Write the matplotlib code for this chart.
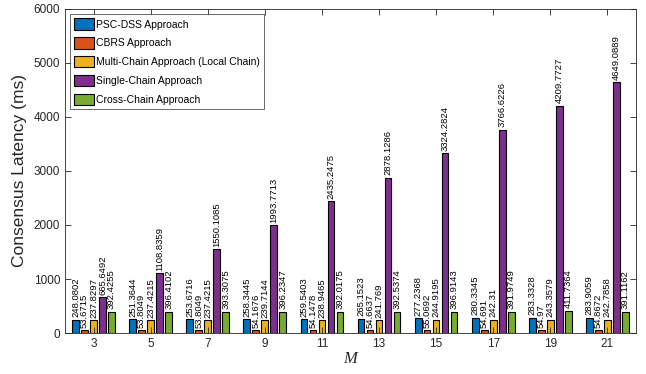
import numpy as np
import matplotlib
matplotlib.use("Agg")
import matplotlib.pyplot as plt

plt.rcParams['font.family'] = ['Liberation Sans', 'DejaVu Sans']

m_values = [3, 5, 7, 9, 11, 13, 15, 17, 19, 21]
series_names = [
    "PSC-DSS Approach",
    "CBRS Approach",
    "Multi-Chain Approach (Local Chain)",
    "Single-Chain Approach",
    "Cross-Chain Approach",
]
psc_dss = [248.0802, 251.3644, 253.6716, 258.3445, 259.5403, 265.1523, 277.2368, 280.3345, 283.3328, 283.9059]
cbrs = [53.6715, 53.8049, 53.8049, 54.1676, 54.1478, 54.6637, 55.0692, 54.691, 54.97, 54.8672]
multi_chain = [237.8297, 237.4215, 237.4215, 239.7144, 238.9465, 241.769, 244.9195, 242.31, 243.3579, 242.7858]
single_chain = [665.6492, 1108.8359, 1550.1085, 1993.7713, 2435.2475, 2878.1286, 3324.2824, 3766.6226, 4209.7727, 4649.0889]
cross_chain = [392.4255, 396.4102, 393.3075, 396.2347, 392.0175, 392.5374, 396.9143, 391.9749, 411.7364, 391.1162]

all_series = [psc_dss, cbrs, multi_chain, single_chain, cross_chain]
colors = ["#0072BD", "#D95319", "#EDB120", "#7E2F8E", "#77AC30"]

fig = plt.figure(figsize=(6.46, 3.74), dpi=100)
ax = fig.add_axes([0.1006, 0.1096, 0.8839, 0.8664])

x = np.array(m_values, dtype=float)
step = 0.315
width = 0.235
for i, (vals, col, name) in enumerate(zip(all_series, colors, series_names)):
    pos = x + (i - 2) * step
    ax.bar(pos, vals, width=width, color=col, edgecolor="black", linewidth=0.8, label=name)
    for p, v in zip(pos, vals):
        ax.text(p, v + 45, f"{v}", rotation=90, ha="center", va="bottom",
                fontsize=6.8, color="black")

ax.set_xlim(2, 22)
ax.set_ylim(0, 6000)
ax.set_xticks(m_values)
ax.set_yticks(range(0, 6001, 1000))
ax.tick_params(direction="in", top=True, right=True, labelsize=8.5,
               colors="#262626", length=4, width=0.6)
for s in ax.spines.values():
    s.set_color("#262626")
    s.set_linewidth(0.6)

ax.set_ylabel("Consensus Latency (ms)", fontsize=12.5, color="#262626", labelpad=5)
ax.set_xlabel("M", fontsize=12, fontstyle="italic", family="Liberation Serif",
              color="#262626", labelpad=1)

leg = ax.legend(loc="upper left", fontsize=7.5, frameon=True, fancybox=False,
                edgecolor="#262626", borderpad=0.4, handlelength=1.9,
                handleheight=1.3, handletextpad=0.2, labelspacing=0.72,
                borderaxespad=0.5)
leg.get_frame().set_linewidth(0.6)

fig.savefig("out.png", dpi=100)
